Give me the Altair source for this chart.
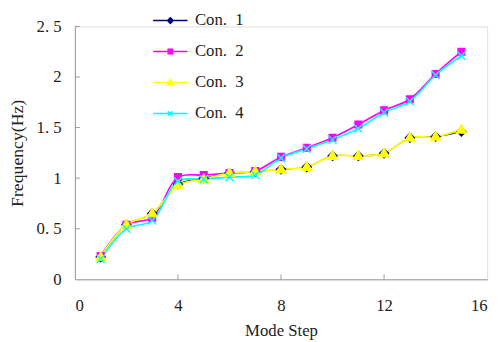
import altair as alt
import pandas as pd

steps = list(range(1, 16))
series_names = ["Con. 1", "Con. 2", "Con. 3", "Con. 4"]
con1 = [0.22, 0.54, 0.65, 0.94, 1.00, 1.05, 1.065, 1.087, 1.11, 1.22, 1.22, 1.245, 1.40, 1.41, 1.46]
con2 = [0.23, 0.54, 0.61, 1.01, 1.03, 1.05, 1.07, 1.21, 1.30, 1.40, 1.53, 1.67, 1.78, 2.03, 2.25]
con3 = [0.22, 0.54, 0.65, 0.93, 0.99, 1.05, 1.065, 1.087, 1.11, 1.22, 1.22, 1.245, 1.40, 1.41, 1.48]
con4 = [0.20, 0.50, 0.58, 0.97, 0.99, 1.01, 1.03, 1.20, 1.29, 1.38, 1.49, 1.65, 1.76, 2.02, 2.21]
colors = ["#000080", "#FF00FF", "#FFFF00", "#00FFFF"]
line_widths = [1.1, 1.7, 1.8, 1.7]
x_ticks = [0, 4, 8, 12, 16]
y_ticks = [0, 0.5, 1, 1.5, 2, 2.5]

rows = []
for name, vals in zip(series_names, [con1, con2, con3, con4]):
    for s, v in zip(steps, vals):
        rows.append({"step": s, "freq": v, "series": name})
df = pd.DataFrame(rows)

W, H = 419, 257
FONT = "Liberation Serif"
TXT = "#222222"

marker_paths = [
    "M0,-1L1,0L0,1L-1,0Z",
    "M-0.75,-0.75H0.75V0.75H-0.75Z",
    "M0,-1.1L1.1,0.75H-1.1Z",
    "M-0.9,-0.9L0.9,0.9M-0.9,0.9L0.9,-0.9",
]
legend_paths = [
    "M-1.75,0H1.75M0,-0.28L0.28,0L0,0.28L-0.28,0Z",
    "M-1.75,0H1.75M-0.22,-0.22H0.22V0.22H-0.22Z",
    "M-1.75,0H1.75M0,-0.3L0.3,0.22H-0.3Z",
    "M-1.75,0H1.75M-0.22,-0.22L0.22,0.22M-0.22,0.22L0.22,-0.22",
]

xs = alt.Scale(domain=[0, 16], nice=False, zero=False)
ys = alt.Scale(domain=[0, 2.5], nice=False)
cs = alt.Scale(domain=series_names, range=colors)

x_axis = alt.Axis(
    values=x_ticks, title="Mode Step", grid=False, ticks=False, labelPadding=19,
    domainColor="#999999", labelFont=FONT, labelFontSize=17, labelColor=TXT,
    titleFont=FONT, titleFontSize=17, titleFontWeight="normal", titleColor=TXT, titlePadding=9)
y_axis = alt.Axis(
    values=y_ticks, title="Frequency(Hz)", grid=False, ticks=False, labelPadding=14,
    labelExpr="replace(format(datum.value, '~g'), '.', '. ')",
    domainColor="#999999", labelFont=FONT, labelFontSize=17, labelColor=TXT,
    titleFont=FONT, titleFontSize=18, titleFontWeight="normal", titleColor=TXT, titlePadding=10)

X = lambda f: alt.X(f, scale=xs, axis=x_axis)
Y = lambda f: alt.Y(f, scale=ys, axis=y_axis)

layers = []
for i, name in enumerate(series_names):
    sub = df[df.series == name]
    layers.append(alt.Chart(sub).mark_line(
        interpolate="catmull-rom", strokeWidth=line_widths[i], color=colors[i]).encode(
        x=X("step:Q"), y=Y("freq:Q")))

for i, name in enumerate(series_names):
    sub = df[df.series == name]
    layers.append(alt.Chart(sub).mark_point(
        filled=True, size=80, strokeWidth=1.5, opacity=1, fill=colors[i], stroke=colors[i],
        shape=marker_paths[i]).encode(x=X("step:Q"), y=Y("freq:Q")))

def mk_legend():
    return alt.Legend(
        orient="none", legendX=86, legendY=-17, title=None, padding=0,
        symbolSize=400, symbolOpacity=1, symbolStrokeWidth=1.6, rowPadding=12.5,
        labelOffset=14, labelFont=FONT, labelFontSize=17, labelColor=TXT,
        labelExpr="replace(datum.label, ' ', '\u00a0\u00a0')")

leg = alt.Chart(df).mark_point(filled=True, opacity=0, size=400).encode(
    x=X("step:Q"), y=Y("freq:Q"),
    fill=alt.Fill("series:N", scale=cs, legend=mk_legend()),
    stroke=alt.Stroke("series:N", scale=cs, legend=mk_legend()),
    shape=alt.Shape("series:N", scale=alt.Scale(domain=series_names, range=legend_paths),
                    legend=mk_legend()))
layers.append(leg)

xt = alt.Chart(pd.DataFrame({"t": x_ticks[1:-1]})).mark_rule(color="#999999").encode(
    x=X("t:Q"), y=alt.value(H), y2=alt.value(H - 5))
yt = alt.Chart(pd.DataFrame({"t": y_ticks[1:]})).mark_rule(color="#999999").encode(
    y=Y("t:Q"), x=alt.value(0), x2=alt.value(5))
layers += [xt, yt]

chart = alt.layer(*layers).properties(
    width=W, height=H,
    autosize=alt.AutoSizeParams(type="none"),
    padding={"left": 68, "top": 16, "right": 9, "bottom": 61},
).configure_view(stroke=None).configure(background="white")

chart.save("out.html", embed_options={"renderer": "svg", "actions": False})
